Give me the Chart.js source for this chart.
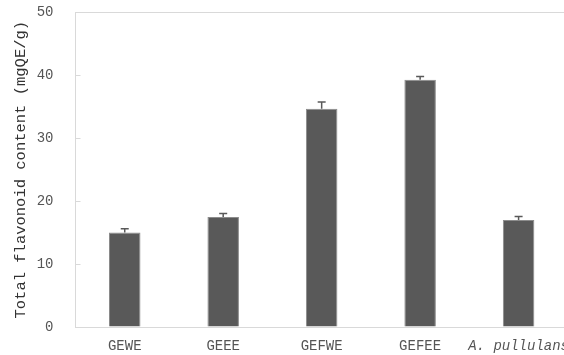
<!DOCTYPE html>
<html>
<head>
<meta charset="utf-8">
<script src="https://cdn.jsdelivr.net/npm/chart.js@4/dist/chart.umd.min.js"></script>
<style>
  html, body { margin: 0; padding: 0; background: #fff; overflow: hidden; }
  #wrap { width: 572px; height: 355px; }
</style>
</head>
<body>
<div id="wrap"><canvas id="c" width="572" height="355"></canvas></div>
<script>
const categories = ['GEWE', 'GEEE', 'GEFWE', 'GEFEE', 'A. pullulans'];
const flavonoid = [15.0, 17.5, 34.7, 39.3, 17.0];
const errors = [0.6, 0.55, 1.05, 0.5, 0.55];
const yTicks = [0, 10, 20, 30, 40, 50];

const MONO = "'Liberation Mono', 'DejaVu Sans Mono', monospace";

// upper error whiskers and inward tick marks on the value axis
const extras = {
  id: 'extras',
  afterDatasetsDraw(chart) {
    const ctx = chart.ctx;
    const meta = chart.getDatasetMeta(0);
    const y = chart.scales.y;
    ctx.save();
    ctx.strokeStyle = '#595959';
    ctx.lineWidth = 1.5;
    meta.data.forEach((bar, i) => {
      const top = y.getPixelForValue(flavonoid[i] + errors[i]);
      const base = y.getPixelForValue(flavonoid[i]);
      ctx.beginPath();
      ctx.moveTo(bar.x, base);
      ctx.lineTo(bar.x, top);
      ctx.moveTo(bar.x - 4, top);
      ctx.lineTo(bar.x + 4, top);
      ctx.stroke();
    });
    ctx.strokeStyle = '#d9d9d9';
    ctx.lineWidth = 1;
    const left = chart.chartArea.left;
    yTicks.forEach(v => {
      const py = Math.round(y.getPixelForValue(v)) + 0.5;
      ctx.beginPath();
      ctx.moveTo(left, py);
      ctx.lineTo(left + 5, py);
      ctx.stroke();
    });
    ctx.restore();
  }
};

new Chart(document.getElementById('c'), {
  type: 'bar',
  data: {
    labels: categories,
    datasets: [{
      data: flavonoid,
      backgroundColor: '#595959',
      borderColor: '#8c8c8c',
      borderWidth: 1,
      barPercentage: 0.32,
      categoryPercentage: 1.0
    }]
  },
  options: {
    responsive: false,
    animation: false,
    layout: { padding: { top: 0, left: 12, right: 0, bottom: 0 } },
    plugins: { legend: { display: false }, tooltip: { enabled: false } },
    scales: {
      x: {
        grid: { display: false },
        border: { color: '#d9d9d9', width: 1 },
        ticks: {
          color: '#555',
          padding: 3,
          autoSkip: false,
          maxRotation: 0,
          font: (c) => ({ family: MONO, size: 14, style: c.index === 4 ? 'italic' : 'normal' })
        },
        afterFit: (s) => { s.height = 28; }
      },
      y: {
        min: 0,
        max: 50,
        afterBuildTicks: (s) => { s.ticks = yTicks.map(v => ({ value: v })); },
        grid: {
          drawTicks: true,
          tickLength: 18,
          tickColor: 'rgba(0,0,0,0)',
          color: (c) => (c.tick && c.tick.value === 50 ? '#d9d9d9' : 'rgba(0,0,0,0)')
        },
        border: { color: '#d9d9d9', width: 1 },
        ticks: { color: '#555', padding: 4, font: { family: MONO, size: 14 } },
        title: {
          display: true,
          text: 'Total flavonoid content (mgQE/g)',
          color: '#333',
          font: { family: MONO, size: 15.5 },
          padding: { top: 0, bottom: 0 }
        },
        afterFit: (s) => { s.width = 63.5; }
      }
    }
  },
  plugins: [extras]
});
</script>
</body>
</html>
